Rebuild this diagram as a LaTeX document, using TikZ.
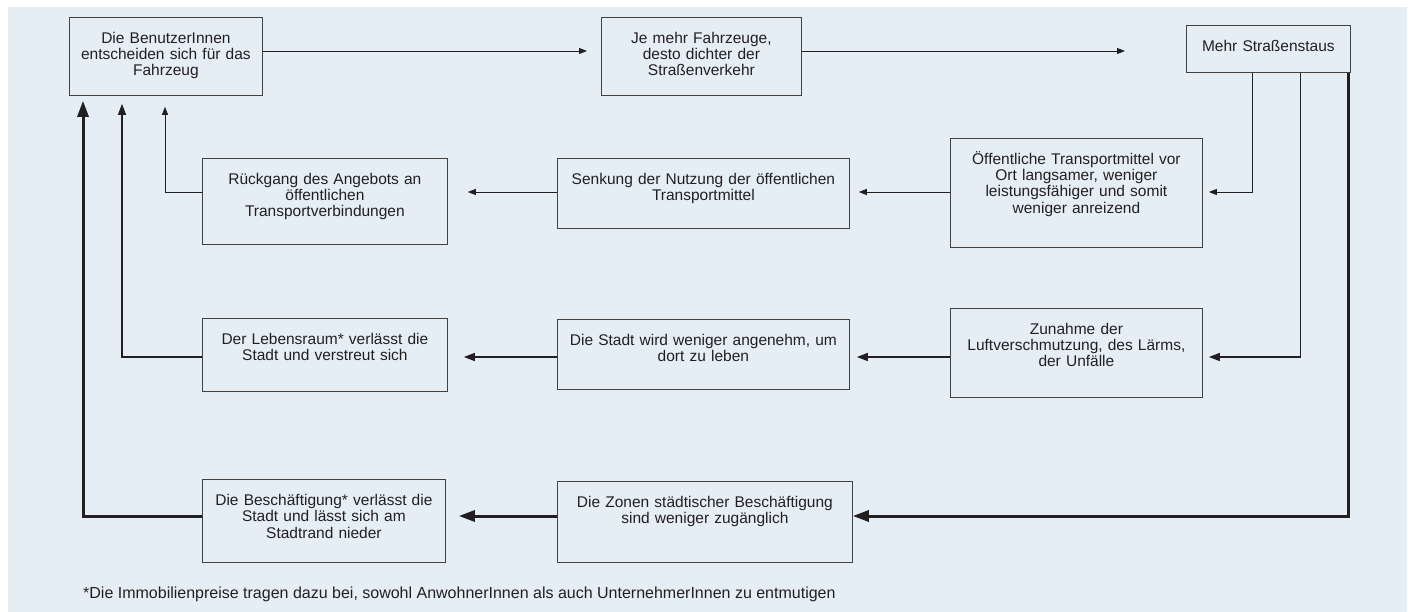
\documentclass[tikz,border=0pt]{standalone}
\usepackage{fontspec}
\setmainfont{Liberation Sans}
\usetikzlibrary{arrows.meta}

\definecolor{panel}{HTML}{E5EEF5}
\definecolor{ink}{HTML}{231F20}

\tikzset{
  box/.style={draw=ink!85, line width=0.8pt, anchor=north west, inner sep=0pt,
    align=center, text height=26pt, text=ink,
    font=\fontsize{15.5}{16.3}\selectfont},
  note/.style={text=ink, inner sep=0pt, font=\fontsize{16}{17}\selectfont},
  thinline/.style={draw=ink, line width=0.9pt, -{Triangle[length=8pt,width=6pt]}},
  midline/.style={draw=ink, line width=1.3pt, -{Triangle[length=11pt,width=8pt]}},
  thickline/.style={draw=ink, line width=3pt, -{Triangle[length=16pt,width=11pt]}}
}

\begin{document}
\begin{tikzpicture}[x=1pt,y=-1pt]

  \useasboundingbox (0,0) rectangle (1414,612);
  \fill[panel] (8,7) rectangle (1407,612);

  % boxes
  \node[box, text width=193pt, text depth=52pt] (users) at (69,17)
    {Die BenutzerInnen\\entscheiden sich für das\\Fahrzeug};
  \node[box, text width=200pt, text depth=52pt] (traffic) at (601,17)
    {Je mehr Fahrzeuge,\\desto dichter der\\Straßenverkehr};
  \node[box, text width=164pt, text depth=21pt] (jams) at (1186,25)
    {Mehr Straßenstaus};

  \node[box, text width=245pt, text depth=60pt] (offer) at (202,158)
    {Rückgang des Angebots an\\öffentlichen\\Transportverbindungen};
  \node[box, text width=292pt, text depth=44pt] (usage) at (557,158)
    {Senkung der Nutzung der öffentlichen\\Transportmittel};
  \node[box, text width=252pt, text depth=83pt] (slowpt) at (950,138)
    {Öffentliche Transportmittel vor\\Ort langsamer, weniger\\leistungsfähiger und somit\\weniger anreizend};

  \node[box, text width=245pt, text depth=47pt] (habitat) at (202,318)
    {Der Lebensraum* verlässt die\\Stadt und verstreut sich};
  \node[box, text width=292pt, text depth=44pt] (unpleasant) at (557,319)
    {Die Stadt wird weniger angenehm, um\\dort zu leben};
  \node[box, text width=252pt, text depth=63pt] (pollution) at (950,308)
    {Zunahme der\\Luftverschmutzung, des Lärms,\\der Unfälle};

  \node[box, text width=243pt, text depth=57pt] (jobs) at (202,479)
    {Die Beschäftigung* verlässt die\\Stadt und lässt sich am\\Stadtrand nieder};
  \node[box, text width=295pt, text depth=55pt] (access) at (557,481)
    {Die Zonen städtischer Beschäftigung\\sind weniger zugänglich};

  \node[note, anchor=base west] (footnote) at (83,598)
    {*Die Immobilienpreise tragen dazu bei, sowohl AnwohnerInnen als auch UnternehmerInnen zu entmutigen};

  % rows of the connectors
  \coordinate (r0) at (0,51);
  \coordinate (r1) at (0,192);
  \coordinate (r2) at (0,357);
  \coordinate (r3) at (0,516);

  % first loop
  \draw[thinline, shorten >=14pt] (users.east |- r0) -- (traffic.west |- r0);
  \draw[thinline, shorten >=61pt] (traffic.east |- r0) -- (jams.west |- r0);
  \draw[thinline, shorten >=6pt] ([xshift=-16pt]jams.south) |- (slowpt.east |- r1);
  \draw[thinline, shorten >=9pt] (slowpt.west |- r1) -- (usage.east |- r1);
  \draw[thinline, shorten >=20pt] (usage.west |- r1) -- (offer.east |- r1);
  \draw[thinline, shorten >=11pt] (offer.west |- r1) -| ([xshift=96pt]users.south west);

  % second loop
  \draw[midline, shorten >=6pt] ([xshift=32pt]jams.south) |- (pollution.east |- r2);
  \draw[midline, shorten >=7pt] (pollution.west |- r2) -- (unpleasant.east |- r2);
  \draw[midline, shorten >=16pt] (unpleasant.west |- r2) -- (habitat.east |- r2);
  \draw[midline, shorten >=8pt] (habitat.west |- r2) -| ([xshift=53pt]users.south west);

  % third loop
  \draw[thickline] ([xshift=80pt]jams.south) |- (access.east |- r3);
  \draw[thickline, shorten >=13pt] (access.west |- r3) -- (jobs.east |- r3);
  \draw[thickline, shorten >=5pt] (jobs.west |- r3) -| ([xshift=14pt]users.south west);

\end{tikzpicture}
\end{document}
